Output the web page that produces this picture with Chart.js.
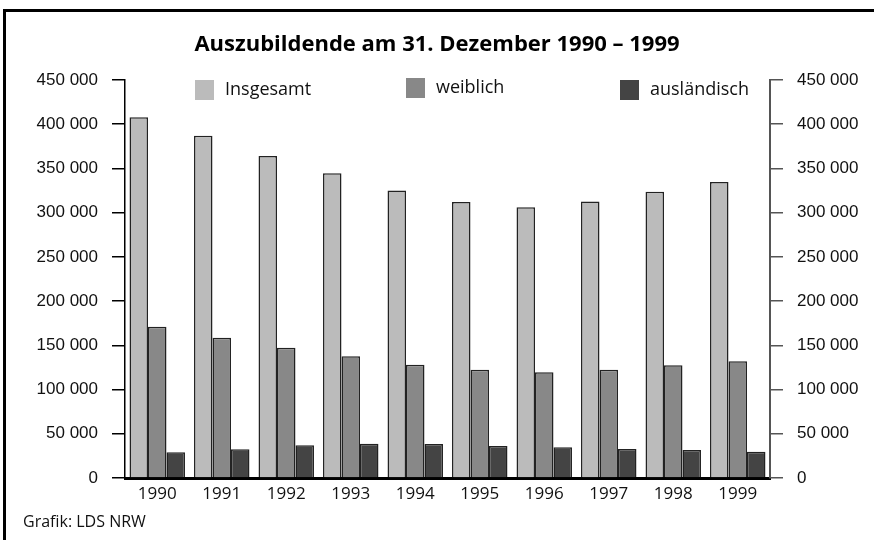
<!DOCTYPE html>
<html>
<head>
<meta charset="utf-8">
<script src="https://cdn.jsdelivr.net/npm/chart.js@4.4.1/dist/chart.umd.min.js"></script>
<style>
  html, body { margin: 0; padding: 0; background: #fff; }
  #wrap { position: relative; width: 874px; height: 540px; overflow: hidden; }
  #frame { position: absolute; left: 3px; top: 9px; width: 900px; height: 600px;
           border-left: 3px solid #000; border-top: 3px solid #000; pointer-events: none; }
  #source { position: absolute; left: 23px; top: 510px; font: 16px "Open Sans", sans-serif; color: #111; }
</style>
</head>
<body>
<div id="wrap">
  <canvas id="chart" width="874" height="540"></canvas>
  <div id="frame"></div>
  <div id="source">Grafik: LDS NRW</div>
</div>
<script>
// DATA
const years = ['1990', '1991', '1992', '1993', '1994', '1995', '1996', '1997', '1998', '1999'];
const insgesamt = [408000, 387000, 364000, 344500, 325000, 312000, 306000, 312500, 323700, 334700];
const weiblich = [171000, 158600, 147300, 137600, 128100, 122500, 119500, 122500, 127400, 132000];
const auslaendisch = [29000, 32400, 37000, 38800, 38400, 36200, 34700, 32800, 31700, 29800];
const seriesNames = ['Insgesamt', 'weiblich', 'ausländisch'];
const yTicks = [0, 50000, 100000, 150000, 200000, 250000, 300000, 350000, 400000, 450000];

const colors = ['#bbbbbb', '#888888', '#444444'];
const fmt = v => String(v).replace(/\B(?=(\d{3})+(?!\d))/g, ' ');

// LEGEND INSIDE PLOT (uneven spacing as in original)
const legendX = [195, 406, 620];
const legendPlugin = {
  id: 'insideLegend',
  afterDraw(chart) {
    const ctx = chart.ctx;
    ctx.save();
    ctx.font = '18px "Open Sans", sans-serif';
    ctx.textBaseline = 'middle';
    chart.data.datasets.forEach((ds, i) => {
      const x = legendX[i];
      const y = i === 1 ? 88 : 90;
      ctx.fillStyle = ds.backgroundColor;
      ctx.fillRect(x, y - 10, 19, 20);
      ctx.fillStyle = '#111';
      ctx.fillText(ds.label, x + 30, y);
    });
    ctx.restore();
  }
};

const tickOpts = {
  font: { family: 'Liberation Sans', size: 17 },
  color: '#111',
  padding: 14,
  callback: v => fmt(v)
};

new Chart(document.getElementById('chart'), {
  type: 'bar',
  data: {
    labels: years,
    datasets: [insgesamt, weiblich, auslaendisch].map((d, i) => ({
      label: seriesNames[i],
      data: d,
      backgroundColor: colors[i],
      borderColor: '#222',
      borderWidth: 1.5,
      borderSkipped: 'bottom',
      barPercentage: 1.0,
      categoryPercentage: 0.86,
      yAxisID: 'y'
    }))
  },
  plugins: [legendPlugin],
  options: {
    responsive: false,
    animation: false,
    layout: { padding: 0 },
    plugins: {
      legend: { display: false },
      tooltip: { enabled: false },
      title: {
        display: true,
        text: 'Auszubildende am 31. Dezember 1990 – 1999',
        color: '#000',
        font: { family: '"Open Sans", sans-serif', size: 22, weight: 'bold' },
        padding: { top: 31.8, bottom: 21.8 }
      }
    },
    scales: {
      x: {
        grid: { display: false },
        border: { display: true, color: '#000', width: 3 },
        ticks: { font: { family: '"Open Sans", sans-serif', size: 17 }, color: '#111', padding: -2 },
        afterFit: s => { s.height = 62; }
      },
      y: {
        position: 'left',
        min: 0, max: 450000,
        afterBuildTicks: s => { s.ticks = yTicks.map(v => ({ value: v })); },
        grid: { drawOnChartArea: false, drawTicks: true, tickLength: 13, color: '#000', lineWidth: 1.5 },
        border: { display: true, color: '#000', width: 1.5 },
        ticks: tickOpts,
        afterFit: s => { s.width = 125; }
      },
      y2: {
        position: 'right',
        min: 0, max: 450000,
        afterBuildTicks: s => { s.ticks = yTicks.map(v => ({ value: v })); },
        grid: { drawOnChartArea: false, drawTicks: true, tickLength: 13, color: '#555', lineWidth: 1.5 },
        border: { display: true, color: '#555', width: 2 },
        ticks: tickOpts,
        afterFit: s => { s.width = 104; }
      }
    }
  }
});
</script>
</body>
</html>
